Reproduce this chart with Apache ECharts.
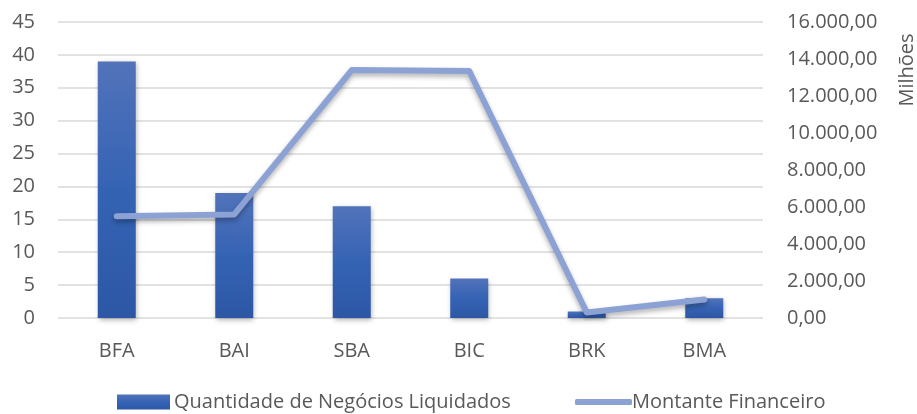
<!DOCTYPE html>
<html>
<head>
<meta charset="utf-8">
<script src="https://cdn.jsdelivr.net/npm/echarts@6/dist/echarts.min.js"></script>
<style>
    html, body { margin: 0; padding: 0; background: #fff; }
    #chart { width: 917px; height: 414px; }
</style>
</head>
<body>
<div id="chart"></div>
<script>
// bancos
var categorias = ['BFA', 'BAI', 'SBA', 'BIC', 'BRK', 'BMA'];
// Quantidade de Negócios Liquidados
var quantidade = [39, 19, 17, 6, 1, 3];
// Montante Financeiro (milhões)
var montante = [5500, 5600, 13400, 13350, 300, 1000];

var fonte = '"Open Sans", "Noto Sans", sans-serif';
var cinza = '#595959';

function formatoPt(v) {
    var partes = v.toFixed(2).split('.');
    partes[0] = partes[0].replace(/\B(?=(\d{3})+(?!\d))/g, '.');
    return partes.join(',');
}

var myChart = echarts.init(document.getElementById('chart'));
var option = {
    animation: false,
    grid: { left: 58, right: 154, top: 22, bottom: 96 },
    legend: [
        {
            data: ['Quantidade de Negócios Liquidados'],
            left: 117, top: 391, padding: 0,
            itemWidth: 53, itemHeight: 15, itemGap: 4,
            icon: 'rect',
            textStyle: { color: cinza, fontFamily: fonte, fontSize: 20, lineHeight: 22, padding: [0, 0, 0, -1] }
        },
        {
            data: ['Montante Financeiro'],
            left: 575, top: 391, padding: 0,
            itemWidth: 57, itemHeight: 6,
            icon: 'roundRect',
            textStyle: { color: cinza, fontFamily: fonte, fontSize: 20, lineHeight: 22, padding: [0, 0, 0, -5] }
        }
    ],
    xAxis: {
        type: 'category',
        data: categorias,
        axisLine: { show: false },
        axisTick: { show: false },
        axisLabel: { color: cinza, fontFamily: fonte, fontSize: 20, margin: 23 }
    },
    yAxis: [
        {
            type: 'value',
            min: 0, max: 45, interval: 5,
            axisLine: { show: false },
            axisTick: { show: false },
            axisLabel: { color: cinza, fontFamily: fonte, fontSize: 20, margin: 23 },
            splitLine: { lineStyle: { color: '#d9d9d9', width: 1.5 } }
        },
        {
            type: 'value',
            min: 0, max: 16000, interval: 2000,
            axisLine: { show: false },
            axisTick: { show: false },
            splitLine: { show: false },
            axisLabel: {
                color: cinza, fontFamily: fonte, fontSize: 20, margin: 24,
                formatter: formatoPt
            }
        }
    ],
    graphic: [
        {
            type: 'text',
            x: 907, y: 70,
            rotation: Math.PI / 2,
            style: {
                text: 'Milhões',
                fill: cinza,
                font: '20px ' + fonte,
                align: 'center',
                verticalAlign: 'middle'
            }
        }
    ],
    series: [
        {
            name: 'Quantidade de Negócios Liquidados',
            type: 'bar',
            data: quantidade,
            barWidth: 38,
            itemStyle: {
                color: new echarts.graphic.LinearGradient(0, 0, 0, 1, [
                    { offset: 0, color: '#5273ba' },
                    { offset: 0.5, color: '#3563b4' },
                    { offset: 1, color: '#2c57a5' }
                ]),
                shadowColor: 'rgba(0,0,0,0.3)',
                shadowBlur: 5,
                shadowOffsetX: 1,
                shadowOffsetY: 2
            }
        },
        {
            name: 'Montante Financeiro',
            type: 'line',
            yAxisIndex: 1,
            data: montante,
            symbol: 'none',
            color: '#8da2d4',
            lineStyle: {
                width: 6,
                cap: 'round',
                join: 'round',
                color: '#8da2d4',
                shadowColor: 'rgba(0,0,0,0.3)',
                shadowBlur: 5,
                shadowOffsetY: 3
            }
        }
    ]
};
myChart.setOption(option);
window.addEventListener('resize', function () { myChart.resize(); });
</script>
</body>
</html>
